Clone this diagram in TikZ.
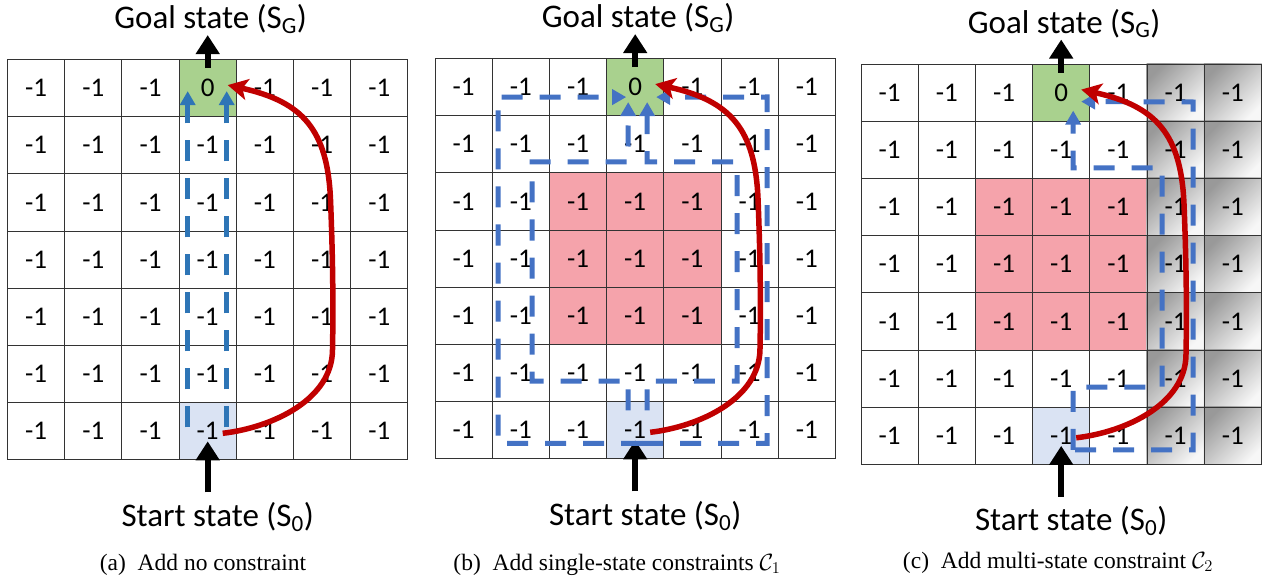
\documentclass[tikz,border=0pt]{standalone}
\usepackage{fix-cm}
\usepackage{fontspec}
\setmainfont{Carlito}
\newfontfamily\capfont{Liberation Serif}
\usetikzlibrary{calc,arrows.meta,backgrounds}
\definecolor{goalgreen}{HTML}{A9D18E}
\definecolor{startblue}{HTML}{DAE3F3}
\definecolor{blockred}{HTML}{F5A3AB}
\definecolor{pathred}{HTML}{C00000}
\definecolor{blueA}{HTML}{2E75B6}
\definecolor{blueB}{HTML}{4472C4}

\begin{document}
\begin{tikzpicture}[x=1pt,y=-1pt,
   cell/.style={draw=black!80, line width=0.9pt, minimum size=57.2pt, inner sep=0pt, font=\fontsize{27}{30}\selectfont},
   statetext/.style={anchor=base, font=\fontsize{33}{38}\selectfont},
   subcap/.style={anchor=base, font=\capfont\fontsize{23.5}{27}\selectfont},
   bigarrow/.style={line width=6pt, -{Triangle[length=19pt,width=23pt]}},
   redpath/.style={pathred, line width=5.5pt, -{Stealth[length=20pt,width=21pt,inset=5pt]}},
   bluepath/.style={line width=5pt, dash pattern=on 21pt off 17pt, -{Triangle[length=14pt,width=15pt]}}]
   \useasboundingbox (0,0) rectangle (1266,580);

   \foreach \g/\ox/\oy in {a/7.5/59.5, b/435/58.5, c/861/64} {
      \foreach \i in {0,...,6}
         \foreach \j in {0,...,6} {
            \pgfmathtruncatemacro\val{(\i==3 && \j==0) ? 0 : -1}
            \node [cell] (\g-\i-\j) at (\ox+57.2*\i+28.6, \oy+57.2*\j+28.6) {\val};
         }
      \begin{pgfonlayer}{background}
         \fill [goalgreen] (\g-3-0.south west) rectangle (\g-3-0.north east);
         \fill [startblue] (\g-3-6.south west) rectangle (\g-3-6.north east);
      \end{pgfonlayer}
      \node [statetext] (\g-goal) at ($(\g-3-0.north)+(3,-30.5)$) {Goal state (S\textsubscript{G})};
      \node [statetext] (\g-start) at ($(\g-3-6.south)+(10,66)$) {Start state (S\textsubscript{0})};
      \draw [bigarrow] ([yshift=-9pt]\g-3-0.north) -- ([yshift=24pt]\g-3-0.north);
      \draw [bigarrow] ([yshift=-32pt]\g-3-6.south) -- ([yshift=19pt]\g-3-6.south);
   }

   \begin{pgfonlayer}{background}
      \foreach \g in {b,c}
         \fill [blockred] (\g-2-4.south west) rectangle (\g-4-2.north east);
      \foreach \i in {5,6}
         \foreach \j in {0,...,6}
            \shade [top color=black!40, bottom color=black!3, shading angle=45] (c-\i-\j.south west) rectangle (c-\i-\j.north east);
   \end{pgfonlayer}

   \draw [bluepath, blueA] ($(a-3-6)+(-20,-4)$) -- ($(a-3-0)+(-20,3)$);
   \draw [bluepath, blueA] ($(a-3-6)+(19,-4)$) -- ($(a-3-0)+(19,3)$);

   \draw [bluepath, blueB] ($(b-3-6)+(7,13)$) -| (498,97) -- ($(b-3-0)+(-9,10)$);
   \draw [bluepath, blueB] ($(b-3-6)+(7,13)$) -| (767,97) -- ($(b-3-0)+(21,10)$);
   \draw [bluepath, blueB] ($(b-3-6)+(-7,-20)$) |- (532,381) |- (628,162) -- ($(b-3-0)+(-7,15)$);
   \draw [bluepath, blueB] ($(b-3-6)+(12,-20)$) |- (737,381) |- (647,162) -- ($(b-3-0)+(12,15)$);

   \draw [bluepath, blueB] ($(c-3-6)+(14,14)$) -| (1193,102) -- ($(c-3-0)+(20,9)$);
   \draw [bluepath, blueB] ($(c-3-6)+(12,14)$) |- (1162,387) |- (1073,168) -- ($(c-3-0)+(12,18)$);

   \foreach \g/\ox/\oy in {a/7.5/59.5, b/435/58.5, c/861/64}
      \draw [redpath] ($(\g-3-6)+(15,2)$) .. controls (\ox+265,\oy+368) and (\ox+325,\oy+340) .. (\ox+325,\oy+290)
         .. controls (\ox+326,\oy+240) and (\ox+325,\oy+190) .. (\ox+323,\oy+140)
         .. controls (\ox+320,\oy+70) and (\ox+295,\oy+42) .. ($(\g-3-0)+(20,-3)$);

   \node [subcap] (cap-a) at (203,570) {(a)\enspace Add no constraint};
   \node [subcap] (cap-b) at (617,570) {(b)\enspace Add single-state constraints $\mathcal{C}_1$};
   \node [subcap] (cap-c) at (1058,568) {(c)\enspace Add multi-state constraint $\mathcal{C}_2$};
\end{tikzpicture}
\end{document}
